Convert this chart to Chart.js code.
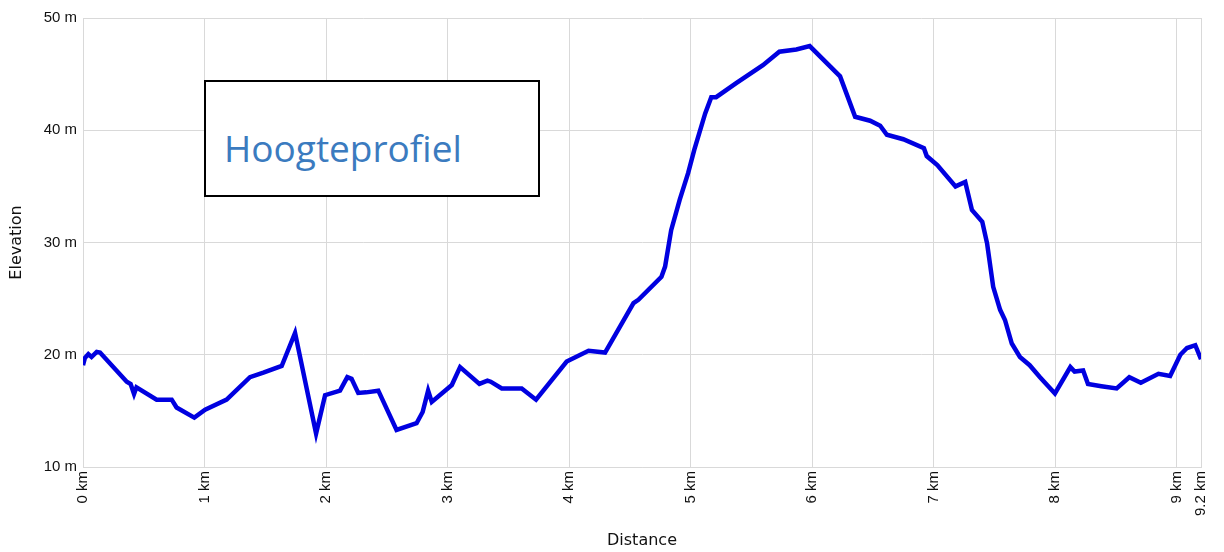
<!DOCTYPE html>
<html>
<head>
<meta charset="utf-8">
<title>Hoogteprofiel</title>
<script src="https://cdn.jsdelivr.net/npm/chart.js@4/dist/chart.umd.min.js"></script>
<style>
    body { margin: 0; background: #fff; }
    #wrap { position: relative; width: 1224px; height: 552px; }
    #titleBox {
        position: absolute; left: 204px; top: 80px; width: 336px; height: 117px;
        box-sizing: border-box; border: 2px solid #000; background: #fff;
    }
    #titleBox span {
        position: absolute; left: 18px; top: 47px;
        font-family: "Open Sans", sans-serif; font-size: 37px; line-height: 37px;
        color: #3b7bbf; white-space: nowrap;
    }
</style>
</head>
<body>
<div id="wrap">
    <canvas id="chart" width="1224" height="552"></canvas>
    <div id="titleBox"><span>Hoogteprofiel</span></div>
</div>
<script>
// distance along the route (km) and elevation (m)
const distance = [
    0, 0.015, 0.044, 0.07, 0.113, 0.14, 0.36, 0.392, 0.42, 0.44,
    0.606, 0.73, 0.77, 0.916, 1.005, 1.182, 1.374, 1.484, 1.635, 1.745,
    1.918, 1.992, 2.115, 2.175, 2.21, 2.265, 2.33, 2.43, 2.58, 2.745,
    2.795, 2.84, 2.87, 3.035, 3.103, 3.262, 3.328, 3.355, 3.446, 3.61,
    3.728, 3.98, 4.16, 4.296, 4.53, 4.57, 4.76, 4.79, 4.84, 4.91,
    4.98, 5.03, 5.12, 5.17, 5.21, 5.375, 5.595, 5.73, 5.87, 5.98,
    6.23, 6.354, 6.477, 6.56, 6.615, 6.75, 6.92, 6.943, 7.03, 7.18,
    7.26, 7.315, 7.4, 7.44, 7.49, 7.547, 7.587, 7.643, 7.71, 7.79,
    7.875, 7.998, 8.125, 8.16, 8.23, 8.27, 8.38, 8.506, 8.61, 8.705,
    8.85, 8.946, 9.03, 9.085, 9.153, 9.2
];
const elevation = [
    19.07, 19.7, 20.05, 19.8, 20.26, 20.2, 17.6, 17.4, 16.5, 17.1,
    16.0, 16.0, 15.3, 14.4, 15.1, 16.0, 18.0, 18.4, 19.0, 21.95,
    12.98, 16.4, 16.8, 18.0, 17.85, 16.6, 16.65, 16.8, 13.3, 13.9,
    14.9, 16.8, 15.8, 17.3, 18.9, 17.4, 17.7, 17.6, 17.0, 17.0,
    16.0, 19.4, 20.35, 20.2, 24.6, 24.9, 26.95, 27.85, 31.1, 33.8,
    36.2, 38.25, 41.5, 42.95, 42.95, 44.2, 45.8, 47.0, 47.2, 47.5,
    44.8, 41.2, 40.85, 40.4, 39.6, 39.2, 38.4, 37.7, 36.9, 35.0,
    35.4, 32.9, 31.85, 29.9, 26.05, 24.0, 23.1, 21.0, 19.8, 19.07,
    18.0, 16.55, 18.9, 18.5, 18.6, 17.4, 17.2, 17.0, 18.0, 17.5,
    18.3, 18.1, 20.0, 20.6, 20.85, 19.6
];
const distanceTicks = [0, 1, 2, 3, 4, 5, 6, 7, 8, 9, 9.2];
const elevationTicks = [10, 20, 30, 40, 50];

const points = distance.map((d, i) => ({ x: d, y: elevation[i] }));
const gridColor = '#d9d9d9';
const tickFont = { family: 'Liberation Sans, Arial, sans-serif', size: 15 };
const titleFont = { family: 'DejaVu Sans, sans-serif', size: 16 };

new Chart(document.getElementById('chart'), {
    type: 'line',
    data: {
        datasets: [{
            label: 'Elevation',
            data: points,
            borderColor: '#0000e0',
            borderWidth: 4.5,
            pointRadius: 0,
            tension: 0,
            fill: false
        }]
    },
    options: {
        responsive: false,
        animation: false,
        layout: { padding: { top: 18, right: 23, left: 0, bottom: 0 } },
        plugins: {
            legend: { display: false },
            tooltip: { enabled: false }
        },
        scales: {
            x: {
                type: 'linear',
                min: 0,
                max: 9.2,
                afterBuildTicks: (scale) => {
                    scale.ticks = distanceTicks.map(v => ({ value: v }));
                },
                afterFit: (scale) => { scale.height = 85; },
                ticks: {
                    minRotation: 90,
                    maxRotation: 90,
                    padding: 4,
                    color: '#111',
                    font: tickFont,
                    callback: (v) => v + ' km'
                },
                grid: { color: gridColor, drawTicks: false },
                border: { color: gridColor },
                title: {
                    display: true,
                    text: 'Distance',
                    color: '#111',
                    font: titleFont,
                    padding: { top: 4, bottom: 2 }
                }
            },
            y: {
                min: 10,
                max: 50,
                afterBuildTicks: (scale) => {
                    scale.ticks = elevationTicks.map(v => ({ value: v }));
                },
                afterFit: (scale) => { scale.width = 83; },
                ticks: {
                    padding: 6,
                    color: '#111',
                    font: tickFont,
                    callback: (v) => v + ' m'
                },
                grid: { color: gridColor, drawTicks: false },
                border: { color: gridColor },
                title: {
                    display: true,
                    text: 'Elevation',
                    color: '#111',
                    font: titleFont,
                    padding: { top: 7, bottom: 4 }
                }
            }
        }
    }
});
</script>
</body>
</html>
